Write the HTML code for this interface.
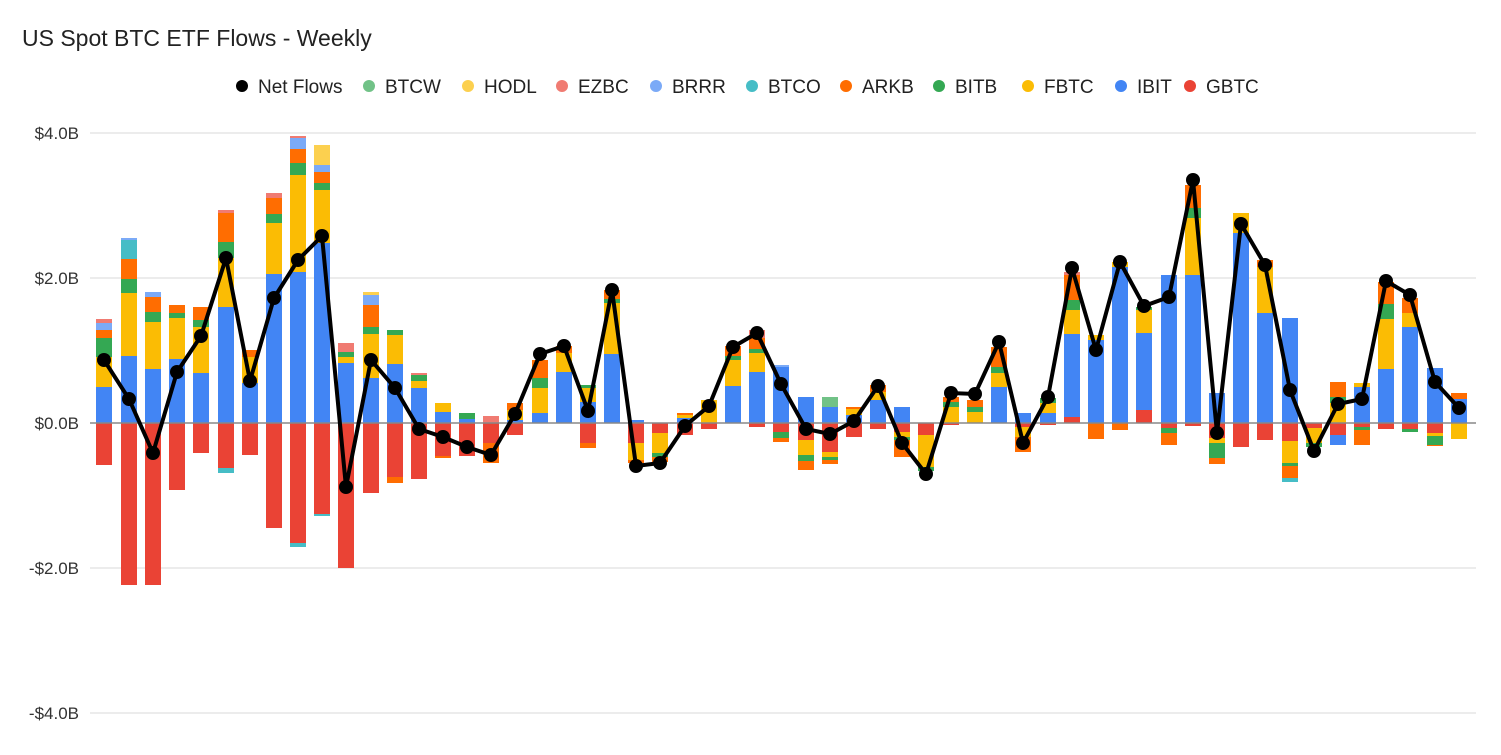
<!DOCTYPE html>
<html><head><meta charset="utf-8"><style>
body{margin:0;background:#fff;width:1501px;height:750px;overflow:hidden;font-family:"Liberation Sans",Arial,sans-serif}
</style></head><body>
<svg id="s" width="1501" height="750" xmlns="http://www.w3.org/2000/svg" font-family="Liberation Sans, Arial, sans-serif">
<text x="22" y="46" font-size="23" fill="#222">US Spot BTC ETF Flows - Weekly</text>
<g font-size="19" fill="#222">
<circle cx="242" cy="86" r="6" fill="#000"/><text x="258" y="93">Net Flows</text>
<circle cx="369" cy="86" r="6" fill="#71c287"/><text x="385" y="93">BTCW</text>
<circle cx="468" cy="86" r="6" fill="#fcd04f"/><text x="484" y="93">HODL</text>
<circle cx="562" cy="86" r="6" fill="#f07b72"/><text x="578" y="93">EZBC</text>
<circle cx="656" cy="86" r="6" fill="#7baaf7"/><text x="672" y="93">BRRR</text>
<circle cx="752" cy="86" r="6" fill="#46bdc6"/><text x="768" y="93">BTCO</text>
<circle cx="846" cy="86" r="6" fill="#ff6d01"/><text x="862" y="93">ARKB</text>
<circle cx="939" cy="86" r="6" fill="#34a853"/><text x="955" y="93">BITB</text>
<circle cx="1028" cy="86" r="6" fill="#fbbc04"/><text x="1044" y="93">FBTC</text>
<circle cx="1121" cy="86" r="6" fill="#4285f4"/><text x="1137" y="93">IBIT</text>
<circle cx="1190" cy="86" r="6" fill="#ea4335"/><text x="1206" y="93">GBTC</text>
</g>
<g stroke="#d9d9d9" stroke-width="1">
<line x1="90" x2="1476" y1="133" y2="133"/><line x1="90" x2="1476" y1="278" y2="278"/>
<line x1="90" x2="1476" y1="568" y2="568"/><line x1="90" x2="1476" y1="713" y2="713"/>
</g>
<g font-size="17" fill="#333" text-anchor="end">
<text x="79" y="139">$4.0B</text><text x="79" y="284">$2.0B</text><text x="79" y="429">$0.0B</text>
<text x="79" y="574">-$2.0B</text><text x="79" y="719">-$4.0B</text>
</g>
<g id="bars"></g>
<line x1="90" x2="1476" y1="423" y2="423" stroke="#888" stroke-width="1.5"/>
<g id="net"></g>
</svg>
<script>
var C={G:"#ea4335",I:"#4285f4",F:"#fbbc04",B:"#34a853",A:"#ff6d01",C:"#46bdc6",R:"#7baaf7",E:"#f07b72",H:"#fcd04f",W:"#71c287"};
var D=[
[104,"I387F357B338A330R323E319","G465",360],
[129,"I356F293B279A259C240R238","G585",399],
[153,"I369F322B312A297R292","G585",453],
[177,"I359F318B313A305","G490",372],
[201,"I373F327B320A307","G453",336],
[226,"I307F258B242A213E210","G468C473",258],
[250,"I383F357A350","G455",381],
[274,"I274F223B214A198E193","G528",298],
[298,"I272F175B163A149R138E136","G543C547",260],
[322,"I243F190B183A172R165H145","G514C516",236],
[346,"I363F357B352E343","G568",487],
[371,"I378F334B327A305R295H292","G493",360],
[395,"I364F335B330","G477A483",388],
[419,"I388F381B375E373","G479",429],
[443,"I412F403","G456A458",437],
[467,"I419B413","G456",447],
[491,"E416","G443A463",455],
[515,"I420F410A403","G435",414],
[540,"I413F388B378A360","",354],
[564,"I372F353A346","",346],
[588,"I402F388B385","G443A448",411],
[612,"I354F303B299A290","",290],
[636,"I420","G443F460A463",466],
[660,"","G433F453B457A462",463],
[685,"I418F415A413","G435",426],
[709,"F400","G429",406],
[733,"I386F360B356A346","",347],
[757,"I372F353B349A338E330","G427",333],
[781,"I367R365","G432B438A442",384],
[806,"I397","G440F455B461A470",429],
[830,"I407W397","G452F457B460A464",434],
[854,"I415F409A407","G437",421],
[878,"I400F392A385","G429",386],
[902,"I407","G432F437B440A457",443],
[926,"","G435F467B471",474],
[951,"F407B402A397","G425",393],
[975,"F412B407A400","",394],
[999,"I387F373B367A347","",342],
[1023,"I413","G427F437A452",443],
[1048,"I413F403B398","G425",397],
[1072,"G417I334F310B300A275E272","",268],
[1096,"I340F335","A439",350],
[1120,"I267F262","A430",262],
[1144,"G410I333F310B307","",306],
[1169,"I275","G428B433A445",297],
[1193,"I275F218B208A185","G426",180],
[1217,"I393","G438F443B458A464",433],
[1241,"I233F213","G447",224],
[1265,"I313F267A260","G440",265],
[1290,"I318","G441F463B466A478C482",390],
[1314,"","G428F443B447",451],
[1338,"F403B397A382","G435I445",404],
[1362,"I387F383","G427B430A445",399],
[1386,"I369F319B304A282","G429",281],
[1410,"I327F313A298","G429B432",295],
[1435,"I368","G433F436B445A446",382],
[1459,"I399A393","F439",408]];
function parse(s){var r=[],re=/([A-Z])(\d+)/g,m;while(m=re.exec(s))r.push([m[1],+m[2]]);return r;}
var h="",pts=[];
D.forEach(function(d){var x=d[0]-8,prev=423;
parse(d[1]).forEach(function(p){h+='<rect x="'+x+'" y="'+p[1]+'" width="16" height="'+(prev-p[1])+'" fill="'+C[p[0]]+'"/>';prev=p[1];});
prev=423;parse(d[2]).forEach(function(p){h+='<rect x="'+x+'" y="'+prev+'" width="16" height="'+(p[1]-prev)+'" fill="'+C[p[0]]+'"/>';prev=p[1];});
pts.push(d[0]+","+d[3]);});
document.getElementById("bars").innerHTML=h;
var n='<polyline points="'+pts.join(" ")+'" fill="none" stroke="#000" stroke-width="4" stroke-linejoin="miter"/>';
D.forEach(function(d){n+='<circle cx="'+d[0]+'" cy="'+d[3]+'" r="7" fill="#000"/>';});
document.getElementById("net").innerHTML=n;
</script>
</body></html>
